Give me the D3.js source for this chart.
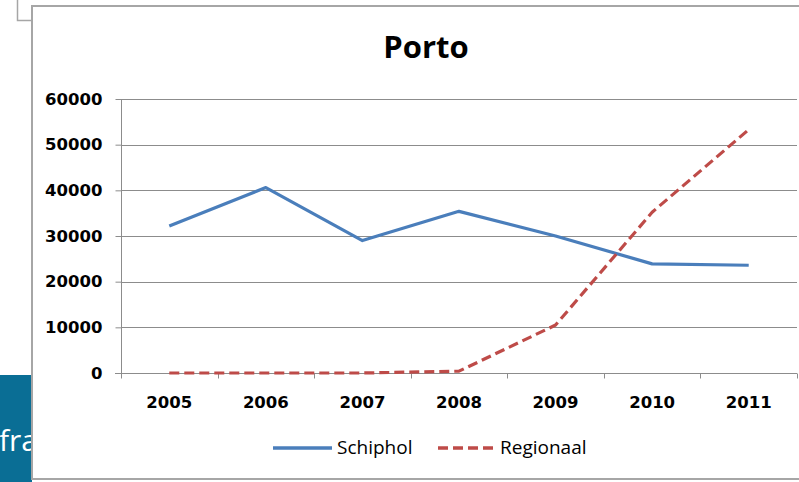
<!DOCTYPE html>
<html>
<head>
<meta charset="utf-8">
<script src="https://cdn.jsdelivr.net/npm/d3@7"></script>
<style>
  html, body { margin: 0; padding: 0; background: #ffffff; }
  svg { display: block; }
</style>
</head>
<body>
<svg id="chart" width="799" height="482"></svg>
<script>
const years = ["2005", "2006", "2007", "2008", "2009", "2010", "2011"];
const schiphol = [32200, 40600, 29000, 35400, 30000, 23900, 23600];
const regionaal = [0, 0, 0, 400, 10500, 35200, 53300];
const yTicks = [0, 10000, 20000, 30000, 40000, 50000, 60000];
const seriesNames = ["Schiphol", "Regionaal"];
const title = "Porto";

const svg = d3.select("#chart");

// background elements behind the chart frame
svg.append("rect").attr("x", 0).attr("y", 375).attr("width", 32).attr("height", 107).attr("fill", "#0a6e95");
const clip = svg.append("defs").append("clipPath").attr("id", "bgclip");
clip.append("rect").attr("x", 0).attr("y", 375).attr("width", 31).attr("height", 107);
svg.append("text").attr("clip-path", "url(#bgclip)")
  .attr("x", -1).attr("y", 451)
  .attr("font-family", "Open Sans").attr("font-size", 30)
  .attr("fill", "#ffffff").text("fra");
svg.append("path").attr("d", "M17.5,0 V20.5 H32")
  .attr("fill", "none").attr("stroke", "#a6a6a6").attr("stroke-width", 1.5);

// chart frame
svg.append("rect").attr("x", 32).attr("y", 6).attr("width", 790).attr("height", 473)
  .attr("fill", "#ffffff").attr("stroke", "#a6a6a6").attr("stroke-width", 2);

const x = d3.scaleBand().domain(years).range([121, 797]);
const y = d3.scaleLinear().domain([0, 60000]).range([373, 99]);
const cx = d => x(d) + x.bandwidth() / 2;

// title
svg.append("text").attr("x", 426).attr("y", 58).attr("text-anchor", "middle")
  .attr("font-family", "Open Sans").attr("font-weight", "bold").attr("font-size", 31)
  .attr("fill", "#000").text(title);

// gridlines
svg.append("g").selectAll("line").data(yTicks.filter(t => t > 0)).join("line")
  .attr("x1", 121).attr("x2", 797)
  .attr("y1", d => Math.round(y(d)) + 0.5).attr("y2", d => Math.round(y(d)) + 0.5)
  .attr("stroke", "#8c8c8c").attr("stroke-width", 1);

// y axis
const yAxis = svg.append("g").attr("transform", "translate(121.5,0)")
  .call(d3.axisLeft(y).tickValues(yTicks).tickSize(6).tickPadding(13).tickFormat(d3.format("d")));
yAxis.select(".domain").attr("stroke", "#8c8c8c").attr("d", `M0,${y(60000)}V${y(0)}`);
yAxis.selectAll(".tick line").attr("stroke", "#8c8c8c");
yAxis.selectAll("text").attr("font-family", "DejaVu Sans").attr("font-weight", "bold")
  .attr("font-size", 16.5).attr("fill", "#000");

// x axis
const xAxis = svg.append("g").attr("transform", `translate(0,${Math.round(y(0)) + 0.5})`)
  .call(d3.axisBottom(x).tickSize(0).tickPadding(23));
xAxis.select(".domain").attr("stroke", "#8c8c8c").attr("d", "M115,0H797");
xAxis.selectAll("text").attr("font-family", "DejaVu Sans").attr("font-weight", "bold")
  .attr("font-size", 16.5).attr("fill", "#000");
const bounds = years.map(d => x(d)).concat([x(years[years.length - 1]) + x.bandwidth()]);
xAxis.append("g").selectAll("line").data(bounds).join("line")
  .attr("x1", d => Math.round(d) + 0.5).attr("x2", d => Math.round(d) + 0.5)
  .attr("y1", 0).attr("y2", 5).attr("stroke", "#8c8c8c");

// lines
const line = d3.line().x((d, i) => cx(years[i])).y(d => y(d));
svg.append("path").datum(schiphol).attr("d", line)
  .attr("fill", "none").attr("stroke", "#4a7ebb").attr("stroke-width", 3.2)
  .attr("stroke-linejoin", "round");
svg.append("path").datum(regionaal).attr("d", line)
  .attr("fill", "none").attr("stroke", "#be4b48").attr("stroke-width", 3.2)
  .attr("stroke-dasharray", "10,5").attr("stroke-linejoin", "round");

// legend
const lg = svg.append("g");
lg.append("line").attr("x1", 273).attr("x2", 332).attr("y1", 448).attr("y2", 448)
  .attr("stroke", "#4a7ebb").attr("stroke-width", 3.4);
lg.append("text").attr("x", 337).attr("y", 454)
  .attr("font-family", "Open Sans").attr("font-size", 19).attr("fill", "#000").text(seriesNames[0]);
lg.append("line").attr("x1", 438).attr("x2", 496).attr("y1", 448).attr("y2", 448)
  .attr("stroke", "#be4b48").attr("stroke-width", 3.4).attr("stroke-dasharray", "10,5");
lg.append("text").attr("x", 500).attr("y", 454)
  .attr("font-family", "Open Sans").attr("font-size", 19).attr("fill", "#000").text(seriesNames[1]);
</script>
</body>
</html>
